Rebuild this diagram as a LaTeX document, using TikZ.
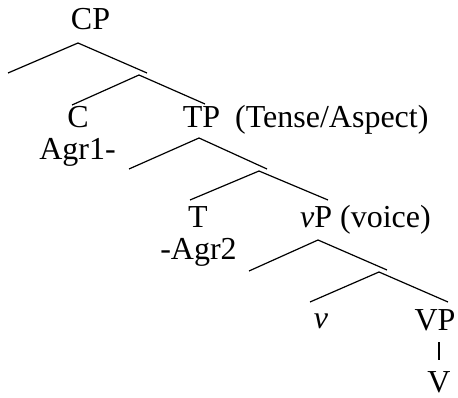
\documentclass[tikz,border=0pt]{standalone}
\usepackage{fontspec}
\setmainfont{Liberation Serif}
\begin{document}
\begin{tikzpicture}[x=1pt,y=-1pt,
  lbl/.style={inner sep=0pt,anchor=base,font=\fontsize{32}{34}\selectfont},
  lblw/.style={lbl,anchor=base west},
  branch/.style={line width=1.2pt,line cap=butt}]
\useasboundingbox (0,0) rectangle (458,398);
% labels
\node[lbl] (CP) at (90.5,30) {CP};
\node[lbl] (C) at (78,128) {C};
\node[lbl] (Agr1) at (77.5,160) {Agr1-};
\node[lbl] (TP) at (201.5,128) {TP};
\node[lblw] (TPgl) at (235,128) {(Tense/Aspect)};
\node[lbl] (T) at (198,228) {T};
\node[lbl] (Agr2) at (198.5,259) {-Agr2};
\node[lblw] (vP) at (300,228) {\textit{v}P (voice)};
\node[lbl] (v) at (321,328) {\textit{v}};
\node[lbl] (VP) at (435,330) {VP};
\node[lbl] (V) at (439,392) {V};
% branch points
\coordinate (a1) at (78,43);   \coordinate (a1l) at (8,73);    \coordinate (a1r) at (147,73);
\coordinate (a2) at (139,75);  \coordinate (a2l) at (72,105);  \coordinate (a2r) at (205,104);
\coordinate (a3) at (199,138); \coordinate (a3l) at (129,169); \coordinate (a3r) at (267,169);
\coordinate (a4) at (259,171); \coordinate (a4l) at (190,200); \coordinate (a4r) at (328,200);
\coordinate (a5) at (318,240); \coordinate (a5l) at (249,271); \coordinate (a5r) at (387,270);
\coordinate (a6) at (379,272); \coordinate (a6l) at (310,302); \coordinate (a6r) at (448,302);
\coordinate (b1) at (439,342); \coordinate (b2) at (439,360);
\draw[branch] (a1l) -- (a1) -- (a1r);
\draw[branch] (a2l) -- (a2) -- (a2r);
\draw[branch] (a3l) -- (a3) -- (a3r);
\draw[branch] (a4l) -- (a4) -- (a4r);
\draw[branch] (a5l) -- (a5) -- (a5r);
\draw[branch] (a6l) -- (a6) -- (a6r);
\draw[branch] (b1) -- (b2);
\end{tikzpicture}
\end{document}
